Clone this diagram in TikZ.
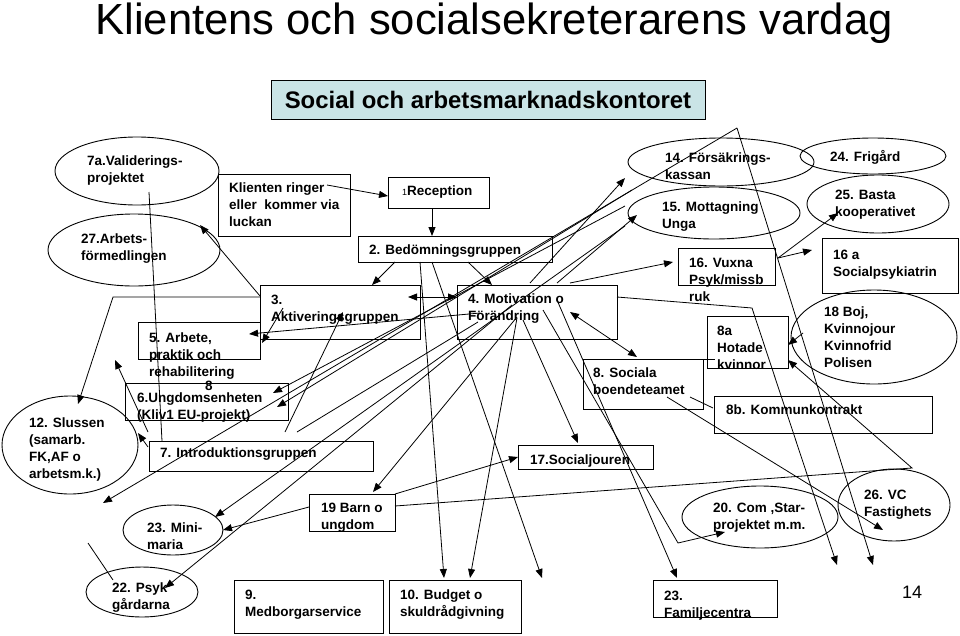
\documentclass[tikz,border=0pt]{standalone}
\usepackage{fontspec}
\setmainfont{Liberation Sans}
\usetikzlibrary{arrows.meta,shapes.geometric}
\definecolor{bannerblue}{RGB}{202,228,230}
\begin{document}
\begin{tikzpicture}[x=1pt,y=-1pt,
  txt/.style={font=\fontsize{13.5}{16.7}\selectfont\bfseries, align=left, anchor=north west, inner sep=0pt},
  box/.style={draw, line width=0.9pt, anchor=north west, inner sep=0pt},
  ell/.style={draw, ellipse, line width=0.9pt, inner sep=0pt},
  con/.style={line width=0.8pt},
  arr/.style={con, -{Triangle[length=9pt,width=7pt]}},
  darr/.style={con, {Triangle[length=9pt,width=7pt]}-{Triangle[length=9pt,width=7pt]}}]
\path[use as bounding box] (0,0) rectangle (960,635);

% title and banner
\node[font=\fontsize{43.6}{50}\selectfont, anchor=base] (title) at (494,34) {Klientens och socialsekreterarens vardag};
\node[box, fill=bannerblue, minimum width=434pt, minimum height=39pt] (banner) at (271,80) {};
\node[font=\fontsize{23.9}{28}\selectfont\bfseries] (bannertext) at (488,100) {Social och arbetsmarknadskontoret};

% ellipses
\node[ell, minimum width=164pt, minimum height=68pt] (e7a) at (137,171) {};
\node[ell, minimum width=172pt, minimum height=72pt] (e27) at (134,250) {};
\node[ell, minimum width=136pt, minimum height=98pt] (e12) at (70,445) {};
\node[ell, minimum width=100pt, minimum height=50pt] (e23m) at (173,530) {};
\node[ell, minimum width=112pt, minimum height=50pt] (e22) at (142,592) {};
\node[ell, minimum width=186pt, minimum height=48pt] (e14) at (721,162) {};
\node[ell, minimum width=172pt, minimum height=52pt] (e15) at (714,213) {};
\node[ell, minimum width=146pt, minimum height=36pt] (e24) at (873,156) {};
\node[ell, minimum width=142pt, minimum height=58pt] (e25) at (878,204) {};
\node[ell, minimum width=166pt, minimum height=94pt] (e18) at (874,337) {};
\node[ell, minimum width=156pt, minimum height=62pt] (e20) at (760,517) {};
\node[ell, minimum width=112pt, minimum height=72pt] (e26) at (894,505) {};

% boxes
\node[box, minimum width=132pt, minimum height=62pt] (bKl) at (218,174) {};
\node[box, minimum width=101pt, minimum height=31pt] (bRec) at (388,177) {};
\node[box, minimum width=194pt, minimum height=26pt] (bBed) at (358,236) {};
\node[box, minimum width=160pt, minimum height=54pt] (b3) at (260,285) {};
\node[box, minimum width=160pt, minimum height=54pt] (b4) at (457,285) {};
\node[box, minimum width=122pt, minimum height=37pt] (b5) at (138,322) {};
\node[box, minimum width=163pt, minimum height=37pt] (b6) at (125,383) {};
\node[box, minimum width=224pt, minimum height=30pt] (b7) at (149,441) {};
\node[box, minimum width=86pt, minimum height=37pt] (b19) at (309,494) {};
\node[box, minimum width=149pt, minimum height=53pt] (b9) at (234,580) {};
\node[box, minimum width=132pt, minimum height=53pt] (b10) at (389,580) {};
\node[box, minimum width=124pt, minimum height=37pt] (b23f) at (653,580) {};
\node[box, minimum width=135pt, minimum height=24pt] (b17) at (518,445) {};
\node[box, minimum width=120pt, minimum height=50pt] (b8) at (583,359) {};
\node[box, minimum width=81pt, minimum height=52pt] (b8a) at (707,316) {};
\node[box, minimum width=218pt, minimum height=37pt] (b8b) at (714,396) {};
\node[box, minimum width=136pt, minimum height=55pt] (b16a) at (822,238) {};
\node[box, minimum width=97pt, minimum height=37pt] (b16) at (678,248) {};

% texts
\node[txt] (t7a) at (87,156) {7a.Validerings-\\projektet};
\node[txt] (t27) at (81,234) {27.Arbets-\\förmedlingen};
\node[txt] (tKl) at (229,183) {Klienten ringer\\eller\ \ kommer via\\luckan};
\node[txt] (tRec) at (402,186) {{\mdseries\fontsize{9}{9}\selectfont 1}Reception};
\node[txt] (tBed) at (369,245) {2. Bedömningsgruppen};
\node[txt] (t3) at (271,295) {3.\\Aktiveringsgruppen};
\node[txt] (t4) at (468,294) {4. Motivation o\\Förändring};
\node[txt] (t5) at (149,333) {5. Arbete,\\praktik och\\rehabilitering};
\node[txt, anchor=north] (t8n) at (209,381) {8};
\node[txt] (t6) at (137,393) {6.Ungdomsenheten\\(Kliv1 EU-projekt)};
\node[txt] (t12) at (29,418) {12. Slussen\\(samarb.\\FK,AF o\\arbetsm.k.)};
\node[txt] (t7) at (160,448) {7. Introduktionsgruppen};
\node[txt] (t23m) at (147,523) {23. Mini-\\maria};
\node[txt] (t22) at (112,583) {22. Psyk\\gårdarna};
\node[txt] (t19) at (321,503) {19 Barn o\\ungdom};
\node[txt] (t9) at (245,590) {9.\\Medborgarservice};
\node[txt] (t10) at (400,590) {10. Budget o\\skuldrådgivning};
\node[txt] (t23f) at (664,591) {23.\\Familjecentra};
\node[txt] (t17) at (530,455) {17.Socialjouren};
\node[txt] (t8) at (593,368) {8. Sociala\\boendeteamet};
\node[txt] (t8a) at (717,326) {8a\\Hotade\\kvinnor};
\node[txt] (t8b) at (726,405) {8b. Kommunkontrakt};
\node[txt] (t18) at (824,307) {18 Boj,\\Kvinnojour\\Kvinnofrid\\Polisen};
\node[txt] (t16a) at (833,250) {16 a\\Socialpsykiatrin};
\node[txt] (t16) at (689,258) {16. Vuxna\\Psyk/missb\\ruk};
\node[txt] (t14) at (665,153) {14. Försäkrings-\\kassan};
\node[txt] (t15) at (662,202) {15. Mottagning\\Unga};
\node[txt] (t24) at (830,150) {24. Frigård};
\node[txt] (t25) at (835,190) {25. Basta\\kooperativet};
\node[txt] (t20) at (713,503) {20. Com ,Star-\\projektet m.m.};
\node[txt] (t26) at (864,490) {26. VC\\Fastighets};
\node[font=\fontsize{18}{20}\selectfont, anchor=base] (page) at (912,598) {14};

% connector end points
\foreach \n/\x/\y in {
 a1/327/185, a2/388/196, b1/432/208, b2/432/236, c1/395/262, c2/372/285,
 d1/468/262, d2/492/285, f1/408/297, f2/457/297, g1/260/297, g2/113/297, g3/78/404,
 h1/260/296, h2/200/225, i1/149/192, i2/162/441, j1/480/313, j2/249/334,
 k1/283/308, k2/262/343, l1/285/432, l2/343/312, m1/297/432, m2/478/322,
 n1/148/432, n2/115/360, o1/148/447, o2/138/433, p2/103/503,
 q1/625/206, q2/273/393, r1/632/190, r2/277/407, s1/420/262, s2/444/578,
 u1/432/262, u2/542/578, v1/517/318, v2/470/578, w1/523/320, w2/578/443,
 x1/557/300, x2/677/578, y1/543/310, y2/678/543, y3/725/532,
 z1/570/312, z2/637/357, A1/667/397, A2/883/530, B1/690/397, B2/713/408,
 C1/703/359, C2/715/359, D1/803/333, D2/788/345, E1/395/506, E2/912/468, E3/788/360,
 F1/395/494, F2/518/457, G1/517/317, G2/373/492, H1/309/507, H2/223/530,
 I1/625/226, I2/215/517, J1/88/543, J2/113/580, K1/512/305, K2/165/588,
 L1/617/297, L2/752/308, L3/837/565, M1/737/128, M2/873/565,
 N1/530/283, N2/625/178, O1/557/283, O2/637/215, P1/570/283, P2/673/262,
 Q1/778/258, Q2/838/213, R2/812/250}
 {\coordinate (\n) at (\x,\y);}

\draw[arr] (a1) -- (a2);
\draw[arr] (b1) -- (b2);
\draw[arr] (c1) -- (c2);
\draw[arr] (d1) -- (d2);
\draw[darr] (f1) -- (f2);
\draw[arr] (g1) -- (g2) -- (g3);
\draw[arr] (h1) -- (h2);
\draw[con] (i1) -- (i2);
\draw[arr] (j1) -- (j2);
\draw[arr] (k1) -- (k2);
\draw[arr] (l1) -- (l2);
\draw[con] (m1) -- (m2);
\draw[arr] (n1) -- (n2);
\draw[arr] (o1) -- (o2);
\draw[arr] (M1) -- (p2);
\draw[arr] (q1) -- (q2);
\draw[arr] (r1) -- (r2);
\draw[arr] (s1) -- (s2);
\draw[arr] (u1) -- (u2);
\draw[arr] (v1) -- (v2);
\draw[arr] (w1) -- (w2);
\draw[arr] (x1) -- (x2);
\draw[arr] (y1) -- (y2) -- (y3);
\draw[darr] (z1) -- (z2);
\draw[arr] (A1) -- (A2);
\draw[con] (B1) -- (B2);
\draw[con] (C1) -- (C2);
\draw[arr] (D1) -- (D2);
\draw[arr] (E1) -- (E2) -- (E3);
\draw[arr] (F1) -- (F2);
\draw[arr] (G1) -- (G2);
\draw[arr] (H1) -- (H2);
\draw[arr] (I1) -- (I2);
\draw[con] (J1) -- (J2);
\draw[arr] (K1) -- (K2);
\draw[arr] (L1) -- (L2) -- (L3);
\draw[arr] (M1) -- (M2);
\draw[arr] (N1) -- (N2);
\draw[arr] (O1) -- (O2);
\draw[arr] (P1) -- (P2);
\draw[arr] (Q1) -- (Q2);
\draw[arr] (Q1) -- (R2);
\end{tikzpicture}
\end{document}
